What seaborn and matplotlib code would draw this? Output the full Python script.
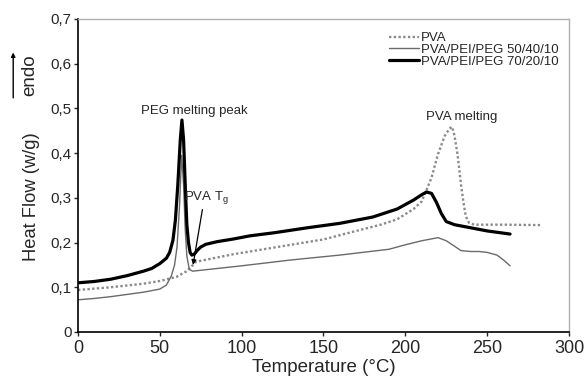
import numpy as np
import pandas as pd
import matplotlib
matplotlib.use("Agg")
import matplotlib.pyplot as plt
import seaborn as sns

# DSC curves (temperature in C, heat flow in W/g)
pva_temp = [0, 20, 40, 50, 60, 66, 69, 72, 80, 95, 110, 135, 150, 170, 185, 195, 205,
            210, 213, 216, 220, 224, 227, 228.5, 230, 232, 234, 235.5, 237, 239, 242, 260, 283]
pva_flow = [0.094, 0.100, 0.108, 0.114, 0.123, 0.135, 0.145, 0.157, 0.163, 0.174, 0.183,
            0.198, 0.207, 0.226, 0.240, 0.252, 0.275, 0.292, 0.318, 0.345, 0.398, 0.438,
            0.455, 0.459, 0.440, 0.395, 0.330, 0.290, 0.258, 0.244, 0.240, 0.240, 0.239]

blend50_temp = [0, 10, 20, 30, 40, 50, 54, 57, 59, 60.5, 62, 63.3, 64.5, 65.5, 66.5, 68, 70,
                75, 85, 100, 130, 160, 190, 200, 210, 220, 225, 230, 234, 240, 245, 250,
                256, 260, 264]
blend50_flow = [0.072, 0.075, 0.079, 0.084, 0.089, 0.096, 0.105, 0.125, 0.150, 0.190,
                0.280, 0.395, 0.330, 0.230, 0.170, 0.140, 0.136, 0.138, 0.142, 0.148,
                0.161, 0.172, 0.185, 0.195, 0.204, 0.211, 0.204, 0.192, 0.182, 0.180,
                0.180, 0.178, 0.172, 0.161, 0.148]

blend70_temp = [0, 10, 20, 30, 40, 45, 50, 54, 56, 58, 59.5, 61, 62.5, 63.5, 64.5, 65.5,
                66.5, 67.5, 68.5, 69.5, 71, 73, 75, 78, 85, 95, 105, 120, 140, 160, 180,
                195, 205, 210, 213, 216, 219, 222, 225, 230, 240, 250, 264]
blend70_flow = [0.110, 0.113, 0.118, 0.126, 0.136, 0.142, 0.153, 0.165, 0.178, 0.205,
                0.250, 0.330, 0.430, 0.474, 0.430, 0.330, 0.240, 0.200, 0.178, 0.172,
                0.174, 0.183, 0.190, 0.196, 0.202, 0.208, 0.215, 0.222, 0.233, 0.243,
                0.257, 0.275, 0.295, 0.307, 0.313, 0.310, 0.290, 0.265, 0.247, 0.240,
                0.233, 0.226, 0.219]

series_names = ["PVA", "PVA/PEI/PEG 50/40/10", "PVA/PEI/PEG 70/20/10"]

x_ticks = [0, 50, 100, 150, 200, 250, 300]
y_ticks = [0, 0.1, 0.2, 0.3, 0.4, 0.5, 0.6, 0.7]
y_tick_labels = ["0", "0,1", "0,2", "0,3", "0,4", "0,5", "0,6", "0,7"]

sns.set_style("ticks")
plt.rcParams["font.family"] = ["Liberation Sans", "DejaVu Sans"]

fig = plt.figure(figsize=(5.87, 3.83), dpi=100)
ax = fig.add_axes([0.1329, 0.1332, 0.8364, 0.8172])

sns.lineplot(x=pva_temp, y=pva_flow, ax=ax, color="#8a8a8a", linewidth=1.7,
             linestyle=(0, (1, 1)), label=series_names[0])
sns.lineplot(x=blend50_temp, y=blend50_flow, ax=ax, color="#6a6a6a", linewidth=1.0,
             label=series_names[1])
sns.lineplot(x=blend70_temp, y=blend70_flow, ax=ax, color="black", linewidth=2.3,
             label=series_names[2])

ax.set_xlim(0, 300)
ax.set_ylim(0, 0.7)
ax.set_xticks(x_ticks)
ax.set_yticks(y_ticks)
ax.set_yticklabels(y_tick_labels)
ax.tick_params(axis="x", labelsize=13, length=3, width=1, pad=3, direction="out")
ax.tick_params(axis="y", labelsize=11, length=3, width=1, pad=1.5, direction="out")

for side in ["left", "bottom"]:
    ax.spines[side].set_color("black")
    ax.spines[side].set_linewidth(1.2)
for side in ["top", "right"]:
    ax.spines[side].set_visible(True)
    ax.spines[side].set_color("#b0b0b0")
    ax.spines[side].set_linewidth(1.0)

ax.set_xlabel("Temperature (°C)", fontsize=13.5)
ax.xaxis.set_label_coords(0.5, -0.085)
ax.set_ylabel("Heat Flow (w/g)", fontsize=13.2)
ax.yaxis.set_label_coords(-0.078, 0.431)

# "endo" with upward arrow at the top left
ax.text(-0.098, 0.821, "endo", rotation=90, fontsize=13.5, ha="center", va="center",
        transform=ax.transAxes)
ax.annotate("", xy=(-0.132, 0.893), xytext=(-0.132, 0.748), xycoords="axes fraction",
            textcoords="axes fraction", annotation_clip=False,
            arrowprops=dict(arrowstyle="-|>", color="black", lw=1.0,
                            mutation_scale=6, shrinkA=0, shrinkB=0))

# peak annotations
ax.text(71.2, 0.494, "PEG melting peak", fontsize=9.5, ha="center", va="center")
ax.text(234.6, 0.481, "PVA melting", fontsize=9.5, ha="center", va="center")
ax.annotate("PVA T$_\\mathregular{g}$", xy=(70.3, 0.150), xytext=(64.8, 0.300),
            fontsize=9.5, ha="left", va="center",
            arrowprops=dict(arrowstyle="-|>", color="black", lw=0.9,
                            mutation_scale=7, shrinkA=0, shrinkB=0,
                            relpos=(0.42, 0.0)))

ax.legend(loc="upper right", bbox_to_anchor=(0.978, 0.958), frameon=False,
          fontsize=9.5, handlelength=2.3, handletextpad=0.1, labelspacing=-0.05,
          borderaxespad=0, borderpad=0)

fig.savefig("out.png", dpi=100)
